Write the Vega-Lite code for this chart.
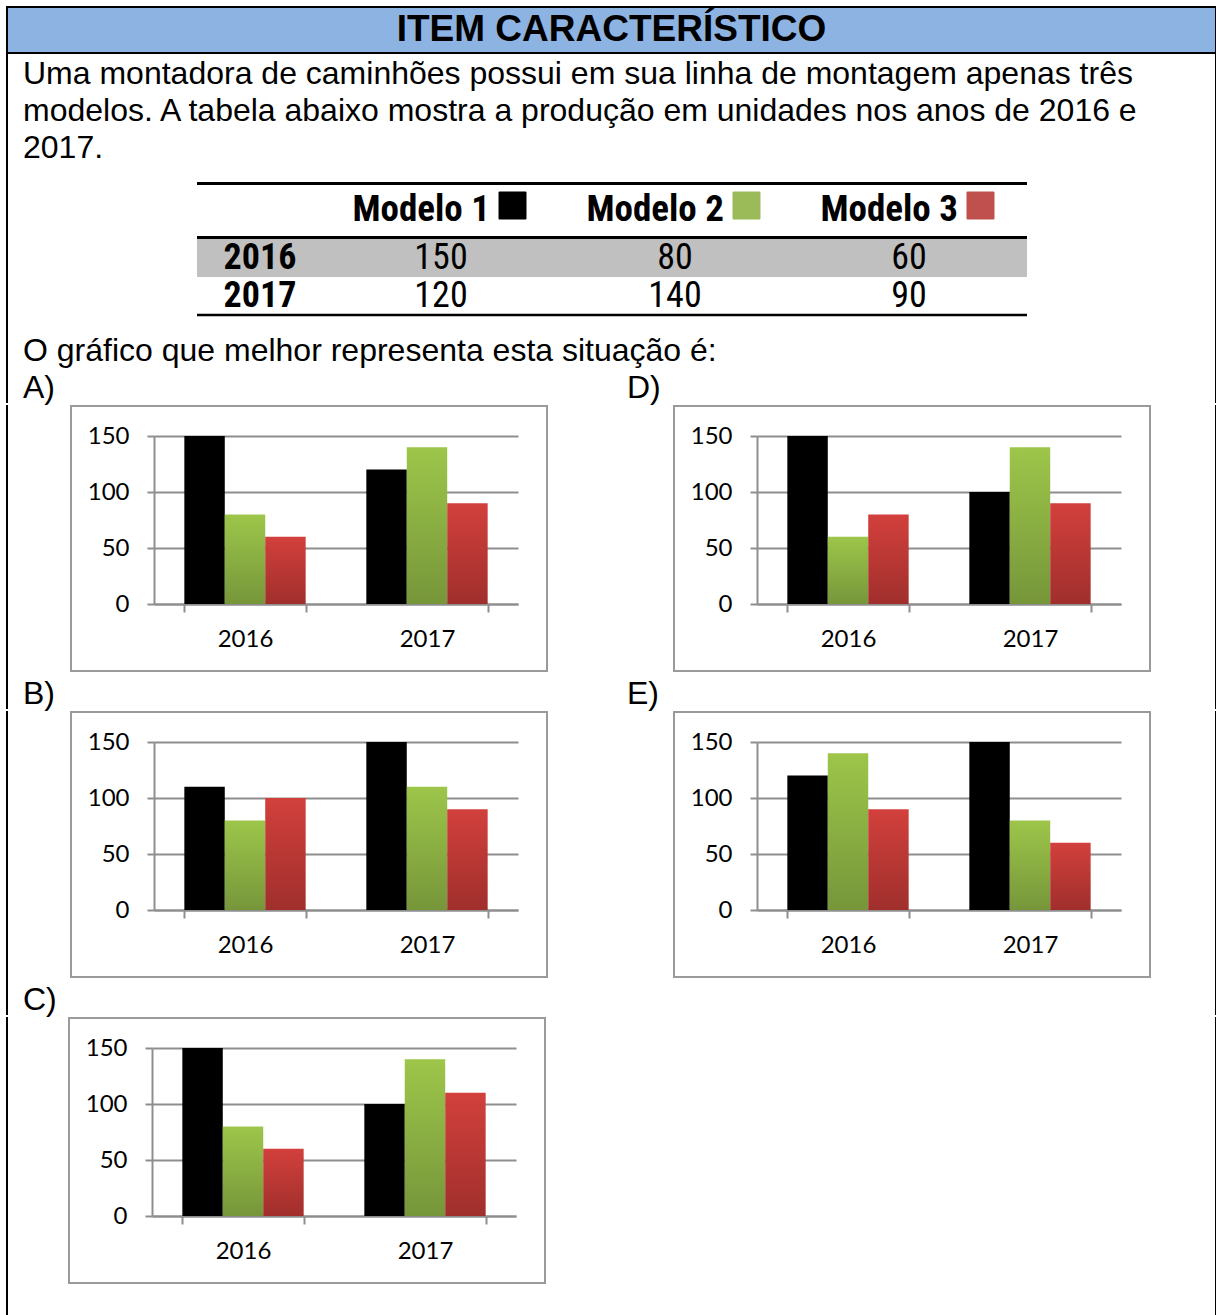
{
  "$schema": "https://vega.github.io/schema/vega-lite/v6.json",
  "background": "white",
  "padding": {"left": 5, "top": 6, "right": 0, "bottom": 0},
  "spacing": -4,
  "resolve": {"scale": {"xOffset": "independent", "fill": "independent", "stroke": "independent"}},
  "datasets": {
    "tabela": [
      {"ano": "2016", "modelo": "Modelo 1", "valor": 150},
      {"ano": "2016", "modelo": "Modelo 2", "valor": 80},
      {"ano": "2016", "modelo": "Modelo 3", "valor": 60},
      {"ano": "2017", "modelo": "Modelo 1", "valor": 120},
      {"ano": "2017", "modelo": "Modelo 2", "valor": 140},
      {"ano": "2017", "modelo": "Modelo 3", "valor": 90}
    ],
    "graficos": [
      {"opcao": "A", "ano": "2016", "modelo": "Modelo 1", "valor": 150},
      {"opcao": "A", "ano": "2016", "modelo": "Modelo 2", "valor": 80},
      {"opcao": "A", "ano": "2016", "modelo": "Modelo 3", "valor": 60},
      {"opcao": "A", "ano": "2017", "modelo": "Modelo 1", "valor": 120},
      {"opcao": "A", "ano": "2017", "modelo": "Modelo 2", "valor": 140},
      {"opcao": "A", "ano": "2017", "modelo": "Modelo 3", "valor": 90},
      {"opcao": "B", "ano": "2016", "modelo": "Modelo 1", "valor": 110},
      {"opcao": "B", "ano": "2016", "modelo": "Modelo 2", "valor": 80},
      {"opcao": "B", "ano": "2016", "modelo": "Modelo 3", "valor": 100},
      {"opcao": "B", "ano": "2017", "modelo": "Modelo 1", "valor": 150},
      {"opcao": "B", "ano": "2017", "modelo": "Modelo 2", "valor": 110},
      {"opcao": "B", "ano": "2017", "modelo": "Modelo 3", "valor": 90},
      {"opcao": "C", "ano": "2016", "modelo": "Modelo 1", "valor": 150},
      {"opcao": "C", "ano": "2016", "modelo": "Modelo 2", "valor": 80},
      {"opcao": "C", "ano": "2016", "modelo": "Modelo 3", "valor": 60},
      {"opcao": "C", "ano": "2017", "modelo": "Modelo 1", "valor": 100},
      {"opcao": "C", "ano": "2017", "modelo": "Modelo 2", "valor": 140},
      {"opcao": "C", "ano": "2017", "modelo": "Modelo 3", "valor": 110},
      {"opcao": "D", "ano": "2016", "modelo": "Modelo 1", "valor": 150},
      {"opcao": "D", "ano": "2016", "modelo": "Modelo 2", "valor": 60},
      {"opcao": "D", "ano": "2016", "modelo": "Modelo 3", "valor": 80},
      {"opcao": "D", "ano": "2017", "modelo": "Modelo 1", "valor": 100},
      {"opcao": "D", "ano": "2017", "modelo": "Modelo 2", "valor": 140},
      {"opcao": "D", "ano": "2017", "modelo": "Modelo 3", "valor": 90},
      {"opcao": "E", "ano": "2016", "modelo": "Modelo 1", "valor": 120},
      {"opcao": "E", "ano": "2016", "modelo": "Modelo 2", "valor": 140},
      {"opcao": "E", "ano": "2016", "modelo": "Modelo 3", "valor": 90},
      {"opcao": "E", "ano": "2017", "modelo": "Modelo 1", "valor": 150},
      {"opcao": "E", "ano": "2017", "modelo": "Modelo 2", "valor": 80},
      {"opcao": "E", "ano": "2017", "modelo": "Modelo 3", "valor": 60}
    ]
  },
  "config": {
    "view": {"stroke": null},
    "font": "Liberation Sans",
    "text": {"font": "Liberation Sans", "color": "#000000"},
    "axis": {
      "labelFont": "Lato",
      "labelFontSize": 24,
      "labelColor": "#000000",
      "domainColor": "#8e8e8e",
      "domainWidth": 2,
      "tickColor": "#8e8e8e",
      "tickWidth": 2,
      "gridColor": "#8e8e8e",
      "gridWidth": 2,
      "gridOpacity": 1
    }
  },
  "vconcat": [
    {
      "width": 1209,
      "height": 46,
      "view": {"fill": "#8DB3E2", "stroke": "#000000", "strokeWidth": 2},
      "data": {"values": [{"titulo": "ITEM CARACTERÍSTICO"}]},
      "mark": {"type": "text", "fontWeight": "bold", "fontSize": 37, "baseline": "middle"},
      "encoding": {"text": {"field": "titulo"}}
    },
    {
      "width": 1209,
      "height": 115,
      "view": {"stroke": "#000000", "strokeWidth": 2, "strokeCap": "square", "strokeDash": [0, 1209, 115, 1209, 115]},
      "data": {"values": [
        {"linha": 1, "texto": "Uma montadora de caminhões possui em sua linha de montagem apenas três"},
        {"linha": 2, "texto": "modelos. A tabela abaixo mostra a produção em unidades nos anos de 2016 e"},
        {"linha": 3, "texto": "2017."}
      ]},
      "mark": {"type": "text", "align": "left", "baseline": "middle", "fontSize": 32, "dx": 16},
      "encoding": {
        "x": {"value": 0},
        "y": {"field": "linha", "type": "ordinal", "scale": {"type": "point", "range": [20, 94], "padding": 0}, "axis": null},
        "text": {"field": "texto"}
      }
    },
    {
      "width": 1209,
      "height": 158,
      "view": {"stroke": "#000000", "strokeWidth": 2, "strokeCap": "square", "strokeDash": [0, 1209, 158, 1209, 158]},
      "layer": [
        {
          "data": {"values": [{"ano": "2016"}]},
          "mark": {"type": "rect", "color": "#C0C0C0", "xOffset": -244, "x2Offset": 118},
          "encoding": {
            "y": {"field": "ano", "type": "nominal", "scale": {"type": "band", "domain": ["2016", "2017"], "range": [68, 144], "paddingInner": 0, "paddingOuter": 0}, "axis": null},
            "x": {"datum": "Modelo 1", "type": "nominal", "scale": {"type": "point", "domain": ["Modelo 1", "Modelo 2", "Modelo 3"], "range": [434, 902], "padding": 0}, "axis": null},
            "x2": {"datum": "Modelo 3"}
          }
        },
        {
          "data": {"values": [{}]},
          "mark": {"type": "rule", "strokeWidth": 3, "color": "#000000", "xOffset": -244, "x2Offset": 118, "yOffset": -55.5},
          "encoding": {
            "x": {"datum": "Modelo 1", "type": "nominal"},
            "x2": {"datum": "Modelo 3"},
            "y": {"datum": "2016", "type": "nominal", "bandPosition": 0}
          }
        },
        {
          "data": {"values": [{}]},
          "mark": {"type": "rule", "strokeWidth": 3, "color": "#000000", "xOffset": -244, "x2Offset": 118, "yOffset": -1.5},
          "encoding": {
            "x": {"datum": "Modelo 1", "type": "nominal"},
            "x2": {"datum": "Modelo 3"},
            "y": {"datum": "2016", "type": "nominal", "bandPosition": 0}
          }
        },
        {
          "data": {"values": [{}]},
          "mark": {"type": "rule", "strokeWidth": 2.5, "color": "#000000", "xOffset": -244, "x2Offset": 118},
          "encoding": {
            "x": {"datum": "Modelo 1", "type": "nominal"},
            "x2": {"datum": "Modelo 3"},
            "y": {"datum": "2017", "type": "nominal", "bandPosition": 1}
          }
        },
        {
          "data": {"name": "tabela"},
          "mark": {"type": "text", "font": "Liberation Sans Narrow, Arial Narrow, Roboto Condensed, DejaVu Sans Condensed, Liberation Sans", "fontSize": 36, "baseline": "middle"},
          "encoding": {
            "x": {"field": "modelo", "type": "nominal"},
            "y": {"field": "ano", "type": "nominal"},
            "text": {"field": "valor"}
          }
        },
        {
          "data": {"values": [{"ano": "2016"}, {"ano": "2017"}]},
          "mark": {"type": "text", "font": "Liberation Sans Narrow, Arial Narrow, Roboto Condensed, DejaVu Sans Condensed, Liberation Sans", "fontWeight": "bold", "fontSize": 36, "baseline": "middle", "dx": -181},
          "encoding": {
            "x": {"datum": "Modelo 1", "type": "nominal"},
            "y": {"field": "ano", "type": "nominal"},
            "text": {"field": "ano"}
          }
        },
        {
          "data": {"values": [{"modelo": "Modelo 1"}, {"modelo": "Modelo 2"}, {"modelo": "Modelo 3"}]},
          "mark": {"type": "text", "font": "Liberation Sans Narrow, Arial Narrow, Roboto Condensed, DejaVu Sans Condensed, Liberation Sans", "fontWeight": "bold", "fontSize": 37, "baseline": "middle", "align": "right", "dx": 49, "dy": -29},
          "encoding": {
            "x": {"field": "modelo", "type": "nominal"},
            "y": {"datum": "2016", "type": "nominal", "bandPosition": 0},
            "text": {"field": "modelo"}
          }
        },
        {
          "data": {"values": [{"modelo": "Modelo 1"}, {"modelo": "Modelo 2"}, {"modelo": "Modelo 3"}]},
          "mark": {"type": "point", "shape": "square", "filled": true, "size": 676, "strokeWidth": 2, "strokeJoin": "round", "opacity": 1, "xOffset": 71.5, "yOffset": -33.5},
          "encoding": {
            "x": {"field": "modelo", "type": "nominal"},
            "y": {"datum": "2016", "type": "nominal", "bandPosition": 0},
            "fill": {"field": "modelo", "type": "nominal", "scale": {"domain": ["Modelo 1", "Modelo 2", "Modelo 3"], "range": ["#000000", "#9BBB59", "#C0504D"]}, "legend": null},
            "stroke": {"field": "modelo", "type": "nominal", "scale": {"domain": ["Modelo 1", "Modelo 2", "Modelo 3"], "range": ["#000000", "#9BBB59", "#C0504D"]}, "legend": null}
          }
        }
      ]
    },
    {
      "width": 1209,
      "height": 71,
      "view": {"stroke": "#000000", "strokeWidth": 2, "strokeCap": "square", "strokeDash": [0, 1209, 71, 1209, 71]},
      "layer": [
        {
          "data": {"values": [{"texto": "O gráfico que melhor representa esta situação é:"}]},
          "mark": {"type": "text", "align": "left", "baseline": "middle", "fontSize": 32, "dx": 16},
          "encoding": {"x": {"value": 0}, "y": {"value": 20}, "text": {"field": "texto"}}
        },
        {
          "data": {"values": [{"rotulo": "A)"}, {"rotulo": "D)"}]},
          "mark": {"type": "text", "align": "left", "baseline": "middle", "fontSize": 32},
          "encoding": {
            "x": {"field": "rotulo", "type": "nominal", "scale": {"type": "point", "range": [16, 620], "padding": 0}, "axis": null},
            "y": {"value": 57},
            "text": {"field": "rotulo"}
          }
        }
      ]
    },
    {
      "bounds": "flush",
      "spacing": 0,
      "resolve": {"scale": {"xOffset": "independent"}},
      "hconcat": [
        {
          "width": 64, "height": 302,
          "view": {"stroke": "#000000", "strokeWidth": 2, "strokeCap": "square", "strokeDash": [0, 430, 302]},
          "data": {"values": [{"rotulo": "B)"}]},
          "mark": {"type": "text", "align": "left", "baseline": "middle", "fontSize": 32, "dx": 16},
          "encoding": {"x": {"value": 0}, "y": {"value": 288}, "text": {"field": "rotulo"}}
        },
        {
          "width": 476, "height": 265,
          "view": {"stroke": "#9a9a9a", "strokeWidth": 2},
          "data": {"name": "graficos"},
          "transform": [{"filter": "datum.opcao === 'A'"}],
          "mark": {"type": "bar"},
          "encoding": {
            "x": {"field": "ano", "type": "nominal", "scale": {"range": [83, 447], "paddingInner": 0.3333, "paddingOuter": 0.1667}, "axis": {"orient": "bottom", "offset": -67, "tickBand": "extent", "tickSize": 8, "labelPadding": 27, "labelBaseline": "middle", "labelAngle": 0, "title": null, "grid": false}},
            "xOffset": {"field": "modelo", "type": "nominal", "scale": {"paddingInner": 0, "paddingOuter": 0}},
            "y": {"field": "valor", "type": "quantitative", "scale": {"domain": [0, 150], "range": [198, 30], "nice": false}, "axis": {"offset": -83, "values": [0, 50, 100, 150], "tickSize": 7, "labelPadding": 18, "title": null, "grid": true}},
            "fill": {
              "condition": [
                {"test": "datum.modelo === 'Modelo 1'", "value": "#000000"},
                {"test": "datum.modelo === 'Modelo 2'", "value": {"gradient": "linear", "x1": 0, "y1": 0, "x2": 0, "y2": 1, "stops": [{"offset": 0, "color": "#9DC64A"}, {"offset": 1, "color": "#76963A"}]}}
              ],
              "value": {"gradient": "linear", "x1": 0, "y1": 0, "x2": 0, "y2": 1, "stops": [{"offset": 0, "color": "#D2403C"}, {"offset": 1, "color": "#A02F2C"}]}
            }
          }
        },
        {
          "width": 127, "height": 302,
          "data": {"values": [{"rotulo": "E)"}]},
          "mark": {"type": "text", "align": "left", "baseline": "middle", "fontSize": 32, "dx": 80},
          "encoding": {"x": {"value": 0}, "y": {"value": 288}, "text": {"field": "rotulo"}}
        },
        {
          "width": 476, "height": 265,
          "view": {"stroke": "#9a9a9a", "strokeWidth": 2},
          "data": {"name": "graficos"},
          "transform": [{"filter": "datum.opcao === 'D'"}],
          "mark": {"type": "bar"},
          "encoding": {
            "x": {"field": "ano", "type": "nominal", "scale": {"range": [83, 447], "paddingInner": 0.3333, "paddingOuter": 0.1667}, "axis": {"orient": "bottom", "offset": -67, "tickBand": "extent", "tickSize": 8, "labelPadding": 27, "labelBaseline": "middle", "labelAngle": 0, "title": null, "grid": false}},
            "xOffset": {"field": "modelo", "type": "nominal", "scale": {"paddingInner": 0, "paddingOuter": 0}},
            "y": {"field": "valor", "type": "quantitative", "scale": {"domain": [0, 150], "range": [198, 30], "nice": false}, "axis": {"offset": -83, "values": [0, 50, 100, 150], "tickSize": 7, "labelPadding": 18, "title": null, "grid": true}},
            "fill": {
              "condition": [
                {"test": "datum.modelo === 'Modelo 1'", "value": "#000000"},
                {"test": "datum.modelo === 'Modelo 2'", "value": {"gradient": "linear", "x1": 0, "y1": 0, "x2": 0, "y2": 1, "stops": [{"offset": 0, "color": "#9DC64A"}, {"offset": 1, "color": "#76963A"}]}}
              ],
              "value": {"gradient": "linear", "x1": 0, "y1": 0, "x2": 0, "y2": 1, "stops": [{"offset": 0, "color": "#D2403C"}, {"offset": 1, "color": "#A02F2C"}]}
            }
          }
        },
        {
          "width": 66, "height": 302,
          "view": {"stroke": "#000000", "strokeWidth": 2, "strokeCap": "square", "strokeDash": [302, 434], "strokeDashOffset": 670},
          "data": {"values": []},
          "mark": "rule",
          "encoding": {}
        }
      ]
    },
    {
      "bounds": "flush",
      "spacing": 0,
      "resolve": {"scale": {"xOffset": "independent"}},
      "hconcat": [
        {
          "width": 64, "height": 302,
          "view": {"stroke": "#000000", "strokeWidth": 2, "strokeCap": "square", "strokeDash": [0, 430, 302]},
          "data": {"values": [{"rotulo": "C)"}]},
          "mark": {"type": "text", "align": "left", "baseline": "middle", "fontSize": 32, "dx": 16},
          "encoding": {"x": {"value": 0}, "y": {"value": 288}, "text": {"field": "rotulo"}}
        },
        {
          "width": 476, "height": 265,
          "view": {"stroke": "#9a9a9a", "strokeWidth": 2},
          "data": {"name": "graficos"},
          "transform": [{"filter": "datum.opcao === 'B'"}],
          "mark": {"type": "bar"},
          "encoding": {
            "x": {"field": "ano", "type": "nominal", "scale": {"range": [83, 447], "paddingInner": 0.3333, "paddingOuter": 0.1667}, "axis": {"orient": "bottom", "offset": -67, "tickBand": "extent", "tickSize": 8, "labelPadding": 27, "labelBaseline": "middle", "labelAngle": 0, "title": null, "grid": false}},
            "xOffset": {"field": "modelo", "type": "nominal", "scale": {"paddingInner": 0, "paddingOuter": 0}},
            "y": {"field": "valor", "type": "quantitative", "scale": {"domain": [0, 150], "range": [198, 30], "nice": false}, "axis": {"offset": -83, "values": [0, 50, 100, 150], "tickSize": 7, "labelPadding": 18, "title": null, "grid": true}},
            "fill": {
              "condition": [
                {"test": "datum.modelo === 'Modelo 1'", "value": "#000000"},
                {"test": "datum.modelo === 'Modelo 2'", "value": {"gradient": "linear", "x1": 0, "y1": 0, "x2": 0, "y2": 1, "stops": [{"offset": 0, "color": "#9DC64A"}, {"offset": 1, "color": "#76963A"}]}}
              ],
              "value": {"gradient": "linear", "x1": 0, "y1": 0, "x2": 0, "y2": 1, "stops": [{"offset": 0, "color": "#D2403C"}, {"offset": 1, "color": "#A02F2C"}]}
            }
          }
        },
        {"width": 127, "height": 302, "data": {"values": []}, "mark": "rule", "encoding": {}},
        {
          "width": 476, "height": 265,
          "view": {"stroke": "#9a9a9a", "strokeWidth": 2},
          "data": {"name": "graficos"},
          "transform": [{"filter": "datum.opcao === 'E'"}],
          "mark": {"type": "bar"},
          "encoding": {
            "x": {"field": "ano", "type": "nominal", "scale": {"range": [83, 447], "paddingInner": 0.3333, "paddingOuter": 0.1667}, "axis": {"orient": "bottom", "offset": -67, "tickBand": "extent", "tickSize": 8, "labelPadding": 27, "labelBaseline": "middle", "labelAngle": 0, "title": null, "grid": false}},
            "xOffset": {"field": "modelo", "type": "nominal", "scale": {"paddingInner": 0, "paddingOuter": 0}},
            "y": {"field": "valor", "type": "quantitative", "scale": {"domain": [0, 150], "range": [198, 30], "nice": false}, "axis": {"offset": -83, "values": [0, 50, 100, 150], "tickSize": 7, "labelPadding": 18, "title": null, "grid": true}},
            "fill": {
              "condition": [
                {"test": "datum.modelo === 'Modelo 1'", "value": "#000000"},
                {"test": "datum.modelo === 'Modelo 2'", "value": {"gradient": "linear", "x1": 0, "y1": 0, "x2": 0, "y2": 1, "stops": [{"offset": 0, "color": "#9DC64A"}, {"offset": 1, "color": "#76963A"}]}}
              ],
              "value": {"gradient": "linear", "x1": 0, "y1": 0, "x2": 0, "y2": 1, "stops": [{"offset": 0, "color": "#D2403C"}, {"offset": 1, "color": "#A02F2C"}]}
            }
          }
        },
        {
          "width": 66, "height": 302,
          "view": {"stroke": "#000000", "strokeWidth": 2, "strokeCap": "square", "strokeDash": [302, 434], "strokeDashOffset": 670},
          "data": {"values": []},
          "mark": "rule",
          "encoding": {}
        }
      ]
    },
    {
      "bounds": "flush",
      "spacing": 0,
      "resolve": {"scale": {"xOffset": "independent"}},
      "hconcat": [
        {
          "width": 62, "height": 302,
          "view": {"stroke": "#000000", "strokeWidth": 2, "strokeCap": "square", "strokeDash": [0, 426, 302]},
          "data": {"values": []},
          "mark": "rule",
          "encoding": {}
        },
        {
          "width": 476, "height": 265,
          "view": {"stroke": "#9a9a9a", "strokeWidth": 2},
          "data": {"name": "graficos"},
          "transform": [{"filter": "datum.opcao === 'C'"}],
          "mark": {"type": "bar"},
          "encoding": {
            "x": {"field": "ano", "type": "nominal", "scale": {"range": [83, 447], "paddingInner": 0.3333, "paddingOuter": 0.1667}, "axis": {"orient": "bottom", "offset": -67, "tickBand": "extent", "tickSize": 8, "labelPadding": 27, "labelBaseline": "middle", "labelAngle": 0, "title": null, "grid": false}},
            "xOffset": {"field": "modelo", "type": "nominal", "scale": {"paddingInner": 0, "paddingOuter": 0}},
            "y": {"field": "valor", "type": "quantitative", "scale": {"domain": [0, 150], "range": [198, 30], "nice": false}, "axis": {"offset": -83, "values": [0, 50, 100, 150], "tickSize": 7, "labelPadding": 18, "title": null, "grid": true}},
            "fill": {
              "condition": [
                {"test": "datum.modelo === 'Modelo 1'", "value": "#000000"},
                {"test": "datum.modelo === 'Modelo 2'", "value": {"gradient": "linear", "x1": 0, "y1": 0, "x2": 0, "y2": 1, "stops": [{"offset": 0, "color": "#9DC64A"}, {"offset": 1, "color": "#76963A"}]}}
              ],
              "value": {"gradient": "linear", "x1": 0, "y1": 0, "x2": 0, "y2": 1, "stops": [{"offset": 0, "color": "#D2403C"}, {"offset": 1, "color": "#A02F2C"}]}
            }
          }
        },
        {
          "width": 671, "height": 302,
          "view": {"stroke": "#000000", "strokeWidth": 2, "strokeCap": "square", "strokeDash": [302, 1644], "strokeDashOffset": 1275},
          "data": {"values": []},
          "mark": "rule",
          "encoding": {}
        }
      ]
    }
  ]
}
